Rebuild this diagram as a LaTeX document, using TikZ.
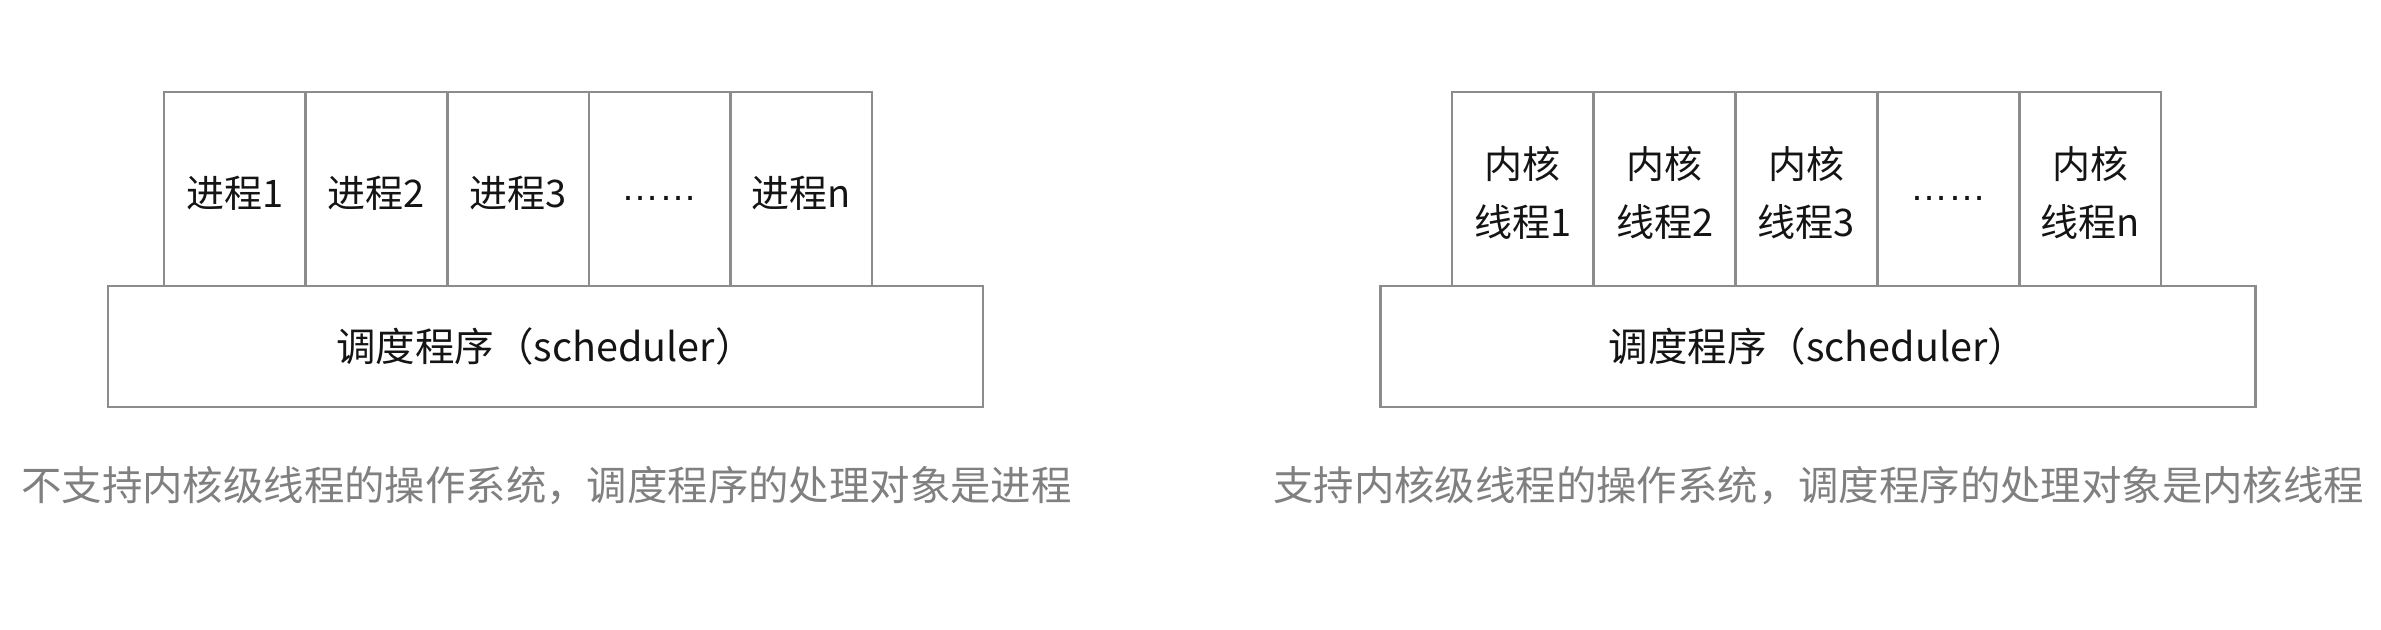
\documentclass[tikz,border=0pt]{standalone}
\usepackage{fontspec}
\setmainfont{Noto Sans CJK SC}
\newfontfamily\latinfont{Liberation Sans}
\definecolor{linegray}{RGB}{140,140,140}
\definecolor{capgray}{RGB}{128,128,128}
\definecolor{txt}{RGB}{20,20,20}
\tikzset{
  cell/.style={draw=linegray, line width=2.6pt, minimum width=141.6pt, minimum height=194pt, inner sep=0pt, text=txt, font=\fontsize{38}{58}\selectfont, align=center},
  celltext/.style={inner sep=0pt, text=txt, font=\fontsize{38}{58}\selectfont, align=center},
  sched/.style={draw=linegray, line width=2.6pt, minimum width=875pt, minimum height=121pt, inner sep=0pt, text=txt, font=\fontsize{39.5}{44}\selectfont},
  caption/.style={anchor=west, inner sep=0pt, text=capgray, font=\fontsize{40.4}{48}\selectfont}
}
\begin{document}
\begin{tikzpicture}[x=1pt,y=-1pt]
\useasboundingbox (0,0) rectangle (2381,629);
% left diagram
\node[sched] (sL) at (545.5,346.5) {调度程序（scheduler）};
\node[cell] (p1) at (234.8,189) {};
\node[cell] (p2) at (376.4,189) {};
\node[cell] (p3) at (518.0,189) {};
\node[cell] (p4) at (659.6,189) {};
\node[cell] (p5) at (801.2,189) {};
\node[celltext] (t1) at ([yshift=-4pt]p1.center) {进程1};
\node[celltext] (t2) at ([yshift=-4pt]p2.center) {进程2};
\node[celltext] (t3) at ([yshift=-4pt]p3.center) {进程3};
\node[celltext] (t4) at ([yshift=-9pt]p4.center) {\latinfont ……};
\node[celltext] (t5) at ([yshift=-4pt]p5.center) {进程n};
\node[caption] (cL) at (21,486) {不支持内核级线程的操作系统，调度程序的处理对象是进程};
% right diagram
\node[sched] (sR) at (1818,346.5) {调度程序（scheduler）};
\node[cell] (k1) at (1522.9,189) {};
\node[cell] (k2) at (1664.7,189) {};
\node[cell] (k3) at (1806.5,189) {};
\node[cell] (k4) at (1948.3,189) {};
\node[cell] (k5) at (2090.1,189) {};
\node[celltext] (u1) at ([yshift=-4pt]k1.center) {内核\\线程1};
\node[celltext] (u2) at ([yshift=-4pt]k2.center) {内核\\线程2};
\node[celltext] (u3) at ([yshift=-4pt]k3.center) {内核\\线程3};
\node[celltext] (u4) at ([yshift=-9pt]k4.center) {\latinfont ……};
\node[celltext] (u5) at ([yshift=-4pt]k5.center) {内核\\线程n};
\node[caption] (cR) at (1273,486) {支持内核级线程的操作系统，调度程序的处理对象是内核线程};
\end{tikzpicture}
\end{document}
